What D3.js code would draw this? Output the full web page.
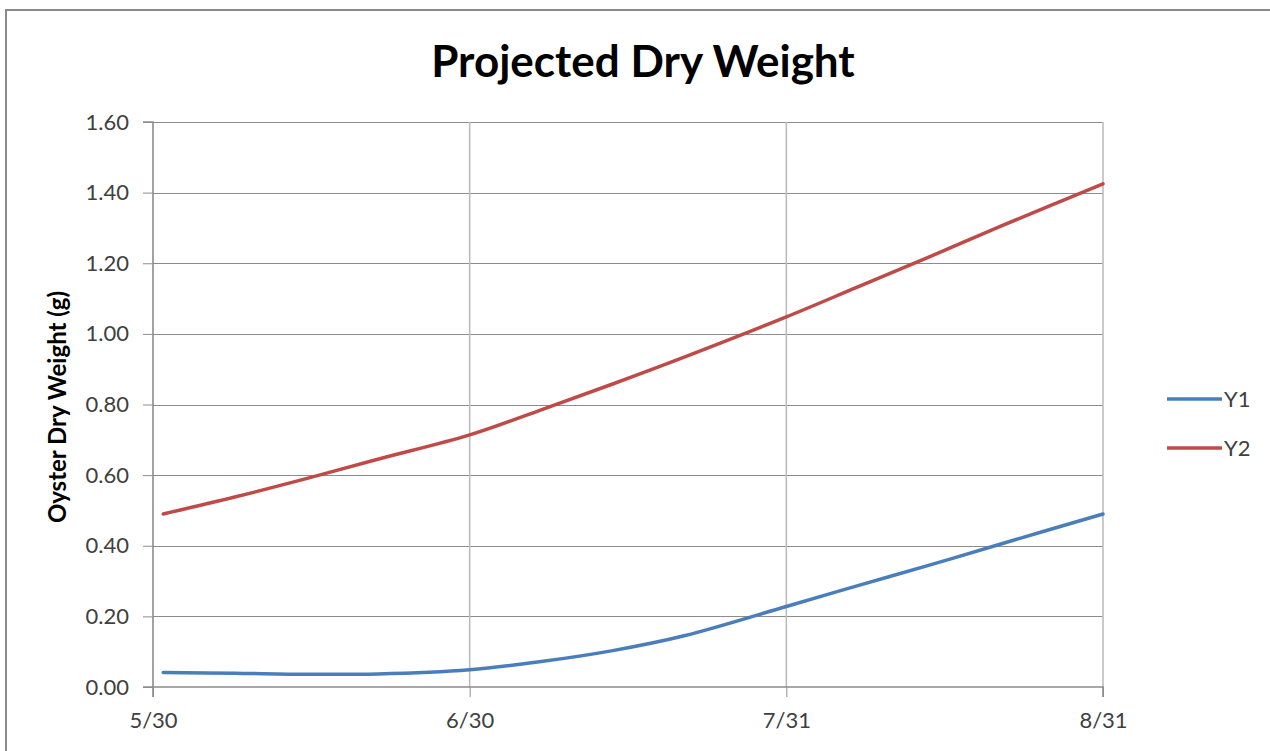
<!DOCTYPE html>
<html>
<head>
<meta charset="utf-8">
<script src="https://d3js.org/d3.v7.min.js"></script>
<style>
  body { margin: 0; background: #fff; }
  svg { display: block; }
  text { font-family: Lato, "Open Sans", sans-serif; }
</style>
</head>
<body>
<div id="chart"></div>
<script>
// data
var dates = ["5/31","6/7","6/14","6/21","6/30","7/7","7/14","7/21","7/31","8/7","8/14","8/21","8/31"];
var y1 = [0.041,0.039,0.036,0.037,0.049,0.072,0.103,0.145,0.228,0.287,0.345,0.405,0.490];
var y2 = [0.490,0.538,0.590,0.645,0.714,0.785,0.858,0.934,1.048,1.133,1.218,1.305,1.425];
var tickDates = ["5/30","6/30","7/31","8/31"];
var yTicks = [0,0.2,0.4,0.6,0.8,1.0,1.2,1.4,1.6];
var seriesNames = ["Y1","Y2"];
var seriesColors = ["#4a7ebb","#be4b48"];

var width = 1270, height = 751;
var plotLeft = 153, plotRight = 1103, plotTop = 122, plotBottom = 687;

var parse = d3.timeParse("%m/%d");
var fmt = d3.timeFormat("%-m/%-d");

var svg = d3.select("#chart").append("svg")
    .attr("width", width)
    .attr("height", height);

// outer chart border
svg.append("rect")
    .attr("x", 6).attr("y", 10)
    .attr("width", width + 10).attr("height", height + 10)
    .attr("fill", "none")
    .attr("stroke", "#8a8a8a")
    .attr("stroke-width", 2);

var x = d3.scaleTime()
    .domain([parse("5/30"), parse("8/31")])
    .range([plotLeft, plotRight]);
var y = d3.scaleLinear()
    .domain([0, 1.6])
    .range([plotBottom, plotTop]);

// horizontal gridlines
svg.append("g").selectAll("line")
    .data(yTicks.slice(1))
    .enter().append("line")
    .attr("x1", plotLeft).attr("x2", plotRight)
    .attr("y1", function(d){ return Math.round(y(d)) + 0.5; })
    .attr("y2", function(d){ return Math.round(y(d)) + 0.5; })
    .attr("stroke", "#8c8c8c")
    .attr("stroke-width", 1);

// vertical gridlines
svg.append("g").selectAll("line")
    .data(tickDates.slice(1))
    .enter().append("line")
    .attr("x1", function(d){ return x(parse(d)); })
    .attr("x2", function(d){ return x(parse(d)); })
    .attr("y1", plotTop).attr("y2", plotBottom)
    .attr("stroke", "#bdbdbd")
    .attr("stroke-width", 1.6);

// y axis
var yAxis = svg.append("g")
    .attr("transform", "translate(" + plotLeft + ",0)")
    .call(d3.axisLeft(y).tickValues(yTicks).tickFormat(d3.format(".2f")).tickSize(10).tickPadding(14));

// x axis
var xAxis = svg.append("g")
    .attr("transform", "translate(0," + plotBottom + ")")
    .call(d3.axisBottom(x).tickValues(tickDates.map(parse)).tickFormat(fmt).tickSize(10).tickPadding(15));

[yAxis, xAxis].forEach(function(a){
    a.select(".domain").attr("stroke", "#8c8c8c").attr("stroke-width", 1.6);
    a.selectAll(".tick line").attr("stroke", "#8c8c8c");
    a.selectAll(".tick text")
        .attr("fill", "#404040")
        .style("font-size", "22px")
        .style("font-family", "Lato, 'Open Sans', sans-serif");
});
yAxis.select(".domain").attr("d", "M-10," + plotTop + "H0V" + plotBottom + "H-10");
xAxis.select(".domain").attr("d", "M" + plotLeft + ",10V0H" + plotRight + "V10");

// lines (smoothed like the original)
var line = d3.line()
    .x(function(d){ return x(parse(d[0])); })
    .y(function(d){ return y(d[1]); })
    .curve(d3.curveCatmullRom.alpha(0.5));

[y1, y2].forEach(function(vals, i){
    svg.append("path")
        .datum(dates.map(function(d, j){ return [d, vals[j]]; }))
        .attr("d", line)
        .attr("fill", "none")
        .attr("stroke", seriesColors[i])
        .attr("stroke-width", 3.5)
        .attr("stroke-linecap", "round");
});

// title
svg.append("text")
    .attr("x", 643).attr("y", 77)
    .attr("text-anchor", "middle")
    .style("font-size", "44px")
    .style("font-weight", "bold")
    .attr("fill", "#000")
    .text("Projected Dry Weight");

// y axis label
svg.append("text")
    .attr("transform", "translate(66,407) rotate(-90)")
    .attr("text-anchor", "middle")
    .style("font-size", "24px")
    .style("font-weight", "bold")
    .attr("fill", "#000")
    .text("Oyster Dry Weight (g)");

// legend
var legend = svg.append("g").selectAll("g")
    .data(seriesNames)
    .enter().append("g")
    .attr("transform", function(d, i){ return "translate(1167," + (399 + i * 49) + ")"; });
legend.append("line")
    .attr("x1", 0).attr("x2", 55)
    .attr("stroke", function(d, i){ return seriesColors[i]; })
    .attr("stroke-width", 3.5);
legend.append("text")
    .attr("x", 57).attr("y", 8)
    .style("font-size", "22px")
    .attr("fill", "#404040")
    .text(function(d){ return d; });
</script>
</body>
</html>
